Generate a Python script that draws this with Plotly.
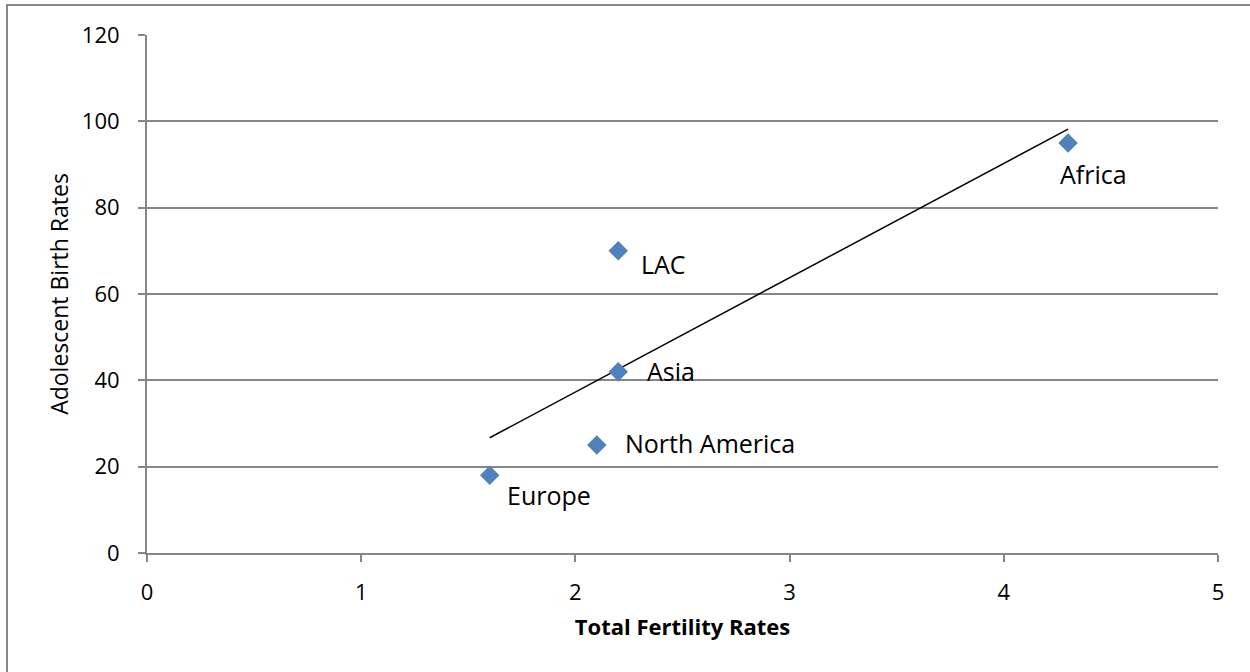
import numpy as np
import plotly.graph_objects as go

# Regional fertility data
regions = ["Europe", "North America", "Asia", "LAC", "Africa"]
total_fertility = [1.6, 2.1, 2.2, 2.2, 4.3]
adolescent_births = [18, 25, 42, 70, 95]

x_ticks = [0, 1, 2, 3, 4, 5]
y_ticks = [0, 20, 40, 60, 80, 100, 120]

# label placement (pixel offsets from each marker)
label_offsets = {
    "Europe": (15, -20),
    "North America": (26, 2),
    "Asia": (27, 1),
    "LAC": (21, -13),
    "Africa": (-10, -31),
}

FONT = "Open Sans, Liberation Sans, sans-serif"
GRID = "#868686"

# linear trendline through the points
slope, intercept = np.polyfit(total_fertility, adolescent_births, 1)
tx = np.array([min(total_fertility), max(total_fertility)])
ty = slope * tx + intercept

fig = go.Figure()
fig.add_trace(go.Scatter(
    x=tx, y=ty, mode="lines",
    line=dict(color="black", width=1.5),
    hoverinfo="skip", showlegend=False,
))
fig.add_trace(go.Scatter(
    x=total_fertility, y=adolescent_births, mode="markers",
    marker=dict(symbol="diamond", size=15, color="#4F81BD",
                line=dict(width=0)),
    text=regions, showlegend=False,
))

for name, xv, yv in zip(regions, total_fertility, adolescent_births):
    dx, dy = label_offsets[name]
    fig.add_annotation(
        x=xv, y=yv, text=name, showarrow=False,
        xanchor="left", yanchor="middle",
        xshift=dx, yshift=dy,
        font=dict(family=FONT, size=25, color="black"),
    )

# outer chart border
fig.add_shape(
    type="rect", xref="paper", yref="paper",
    x0=(7 - 147) / 1071, x1=(1252 - 147) / 1071,
    y0=-(675 - 553) / 518, y1=1 + (35 - 5) / 518,
    line=dict(color="#868686", width=2), fillcolor="rgba(0,0,0,0)",
    layer="below",
)

fig.update_layout(
    width=1250, height=672,
    margin=dict(l=147, r=32, t=35, b=119),
    paper_bgcolor="white", plot_bgcolor="white",
    font=dict(family=FONT, color="black"),
    xaxis=dict(
        range=[0, 5], tickvals=x_ticks, ticktext=[str(v) for v in x_ticks],
        showgrid=False, zeroline=False,
        showline=True, linecolor=GRID, linewidth=2,
        ticks="outside", ticklen=7, tickcolor=GRID, tickwidth=2,
        tickfont=dict(family=FONT, size=22, color="black"),
        ticklabelstandoff=12,
        title=dict(text="<b>Total Fertility Rates</b>",
                   font=dict(family=FONT, size=22, color="black"),
                   standoff=14),
    ),
    yaxis=dict(
        range=[0, 120], tickvals=y_ticks, ticktext=[str(v) for v in y_ticks],
        showgrid=True, gridcolor=GRID, gridwidth=1.5, zeroline=False,
        showline=True, linecolor=GRID, linewidth=2,
        ticks="outside", ticklen=7, tickcolor=GRID, tickwidth=2,
        tickfont=dict(family=FONT, size=22, color="black"),
        ticklabelstandoff=14,
        title=dict(text="Adolescent Birth Rates",
                   font=dict(family=FONT, size=23, color="black"),
                   standoff=7),
    ),
)

fig.write_html("out.html")
